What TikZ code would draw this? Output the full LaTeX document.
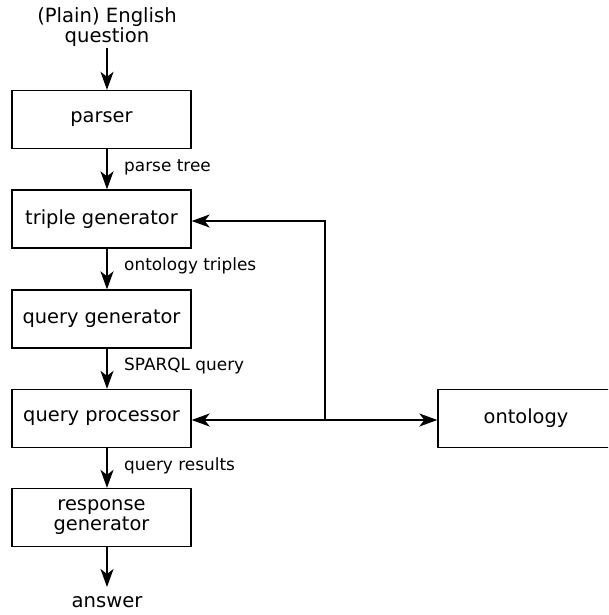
\documentclass[tikz,border=0pt]{standalone}
\usepackage{fontspec}
\setmainfont{DejaVu Sans}
\usetikzlibrary{arrows.meta}
\begin{document}
\begin{tikzpicture}[x=1pt,y=-1pt,
  box/.style={draw, line width=1.3pt, minimum width=179pt, minimum height=58pt, inner sep=0pt,
    font=\fontsize{19.4}{20}\selectfont, align=center},
  lab/.style={font=\fontsize{16.9}{18}\selectfont, anchor=west, inner sep=0pt},
  arr/.style={line width=2pt, -{Stealth[length=18pt,width=13pt,inset=5pt]}},
  arr2/.style={line width=2pt, {Stealth[length=18pt,width=13pt,inset=5pt]}-{Stealth[length=18pt,width=13pt,inset=5pt]}}]
\useasboundingbox (0,0) rectangle (608,615);
\clip (0,0) rectangle (608,615);

\node[font=\fontsize{19.6}{17}\selectfont, align=center, inner sep=0pt, anchor=north] (q) at (107,7) {(Plain) English\\question};
\node[box] (parser) at (101.5,119.5) {parser};
\node[box] (triple) at (101.5,219) {triple generator};
\node[box] (qgen) at (101.5,319) {query generator};
\node[box] (proc) at (101.5,418.5) {query processor};
\node[box] (resp) at (101.5,517.5) {response\\generator};
\node[box, minimum width=176pt] (onto) at (526,418.5) {ontology};
\node[font=\fontsize{19.6}{20}\selectfont, inner sep=0pt] (ans) at (107,602) {answer};
\coordinate (j) at (325,420);

\draw[arr] (107,48) -- (parser.north -| 107,0);
\draw[arr] (parser.south -| 107,0) -- (triple.north -| 107,0);
\draw[arr] (triple.south -| 107,0) -- (qgen.north -| 107,0);
\draw[arr] (qgen.south -| 107,0) -- (proc.north -| 107,0);
\draw[arr] (proc.south -| 107,0) -- (resp.north -| 107,0);
\draw[arr] (resp.south -| 107,0) -- (107,587);

\node[lab] (l1) at (124,167) {parse tree};
\node[lab] (l2) at (124,266) {ontology triples};
\node[lab] (l3) at (124,366) {SPARQL query};
\node[lab] (l4) at (124,466) {query results};

\draw[arr2] (proc.east |- j) -- (onto.west |- j);
\draw[arr] (j) |- (triple.east |- 0,221);
\end{tikzpicture}
\end{document}
